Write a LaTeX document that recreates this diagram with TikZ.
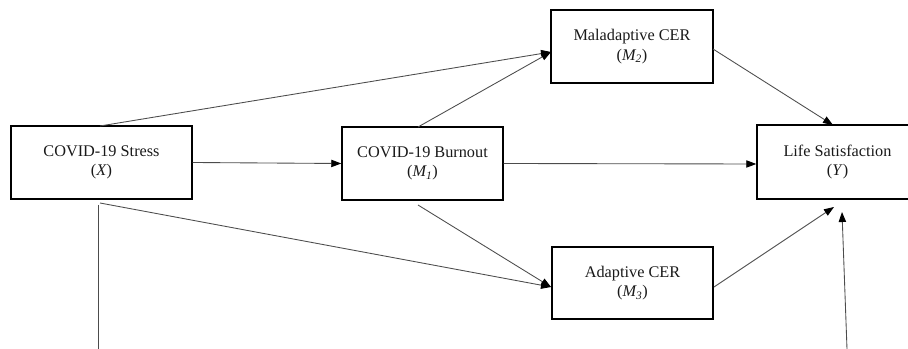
\documentclass[tikz,border=0pt]{standalone}
\usepackage{fontspec}
\setmainfont{Liberation Serif}
\usetikzlibrary{arrows.meta}
\begin{document}
\begin{tikzpicture}[x=0.75pt,y=-0.75pt,
  varbox/.style={draw=black,line width=1.1pt,inner sep=0pt,align=center,
    font=\fontsize{12.2}{14.6}\selectfont,text=black!90},
  path/.style={draw=black!70,line width=0.65pt},
  arr/.style={path,-{Triangle[length=7.5pt,width=5.5pt,color=black]}}]
\useasboundingbox (0,0) rectangle (908,349);
\node[varbox,minimum width=135.75pt,minimum height=54.75pt] (X) at (101.5,162.5) {COVID-19 Stress\\(\textit{X})};
\node[varbox,minimum width=120.75pt,minimum height=54.75pt] (M1) at (422.5,163.5) {COVID-19 Burnout\\(\textit{M\textsubscript{1}})};
\node[varbox,minimum width=121.5pt,minimum height=54.75pt] (M2) at (632,46.5) {Maladaptive CER\\(\textit{M\textsubscript{2}})};
\node[varbox,minimum width=120.75pt,minimum height=54pt] (M3) at (632.5,283) {Adaptive CER\\(\textit{M\textsubscript{3}})};
\node[varbox,minimum width=120.75pt,minimum height=55.5pt] (Y) at (837.5,162) {Life Satisfaction\\(\textit{Y})};
% free ends
\coordinate (xtop) at (100,126);
\coordinate (xbot) at (100,203);
\coordinate (xdown) at (98,205);
\coordinate (xend) at (98,349);
\coordinate (m1top) at (418,127);
\coordinate (m1bot) at (418,205);
\coordinate (m2in) at (551,52);
\coordinate (m3in) at (551,287);
\coordinate (m2out) at (713,49);
\coordinate (m3out) at (714,287);
\coordinate (ytop) at (833,125);
\coordinate (ybot1) at (834,207);
\coordinate (ybot2) at (842,212);
\coordinate (yfar) at (847,349);
\draw[arr] (X.east) -- (M1.west);
\draw[arr] (xtop) -- (m2in);
\draw[arr] (m1top) -- (m2in);
\draw[arr] (M1.east) -- ([yshift=-1.5pt]Y.west);
\draw[arr] (m2out) -- (ytop);
\draw[arr] (m1bot) -- (m3in);
\draw[arr] (xbot) -- (m3in);
\draw[arr] (m3out) -- (ybot1);
\draw[arr] (yfar) -- (ybot2);
\draw[path] (xdown) -- (xend);
\end{tikzpicture}
\end{document}
